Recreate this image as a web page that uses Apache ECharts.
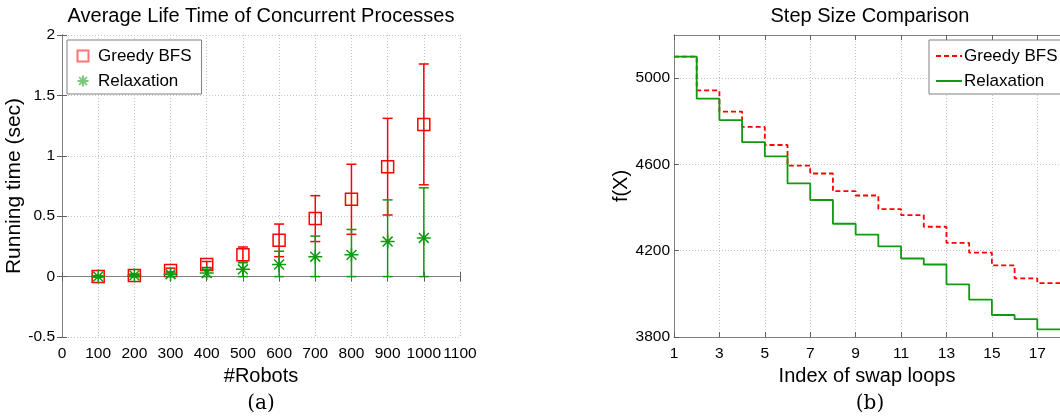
<!DOCTYPE html>
<html><head><meta charset="utf-8">
<script src="https://cdn.jsdelivr.net/npm/echarts@6/dist/echarts.min.js"></script>
<style>html,body{margin:0;padding:0;background:#fff}#c{width:1060px;height:419px}</style>
</head><body><div id="c"></div>
<script>
// ---- (a) Average life time data ----
const robots = [100, 200, 300, 400, 500, 600, 700, 800, 900, 1000];
const greedyMean = [0.00, 0.01, 0.05, 0.10, 0.18, 0.30, 0.48, 0.64, 0.91, 1.26];
const greedyErr = [0.005, 0.01, 0.02, 0.025, 0.065, 0.135, 0.19, 0.29, 0.40, 0.50];
const relaxMean = [0.00, 0.01, 0.02, 0.03, 0.06, 0.10, 0.165, 0.18, 0.29, 0.32];
const relaxErrUp = [0.005, 0.01, 0.02, 0.03, 0.06, 0.11, 0.17, 0.21, 0.345, 0.415];
const relaxErrDown = [0.00, 0.01, 0.02, 0.03, 0.06, 0.10, 0.165, 0.18, 0.29, 0.32];
// ---- (b) Step size comparison data ----
const loopIndex = [1, 2, 3, 4, 5, 6, 7, 8, 9, 10, 11, 12, 13, 14, 15, 16, 17, 18];
const greedyStep = [5100, 4943, 4845, 4774, 4690, 4594, 4558, 4476, 4456, 4393, 4365, 4311, 4236, 4191, 4132, 4072, 4050, 4050];
const relaxStep = [5100, 4905, 4805, 4703, 4637, 4512, 4435, 4325, 4275, 4220, 4164, 4136, 4044, 3973, 3902, 3883, 3835, 3835];

const RED = '#ff0000', GREEN = '#109a10';
const FONT = '"Liberation Sans", Arial, sans-serif';
const SERIF = '"DejaVu Serif", "Liberation Serif", serif';
const GRIDLINE = {show: true, lineStyle: {color: '#c4c4c4', type: [1, 2], width: 1}};
const AXLINE = {show: true, lineStyle: {color: '#808080', width: 1}};
const TICK = {show: true, inside: true, length: 5, lineStyle: {color: '#606060'}};
const FMT = function (v) { return String(v); };
const LBL = {color: '#000', fontFamily: FONT, fontSize: 15.5, formatter: FMT};
const ASTER = 'path://M0,-10L0,10M-10,0L10,0M-7.07,-7.07L7.07,7.07M-7.07,7.07L7.07,-7.07';
const SQUARE = 'path://M0,0L10,0L10,10L0,10Z';

function errRender(params, api) {
  const x = api.value(0), lo = api.value(1), hi = api.value(2);
  const p1 = api.coord([x, hi]), p2 = api.coord([x, lo]);
  const w = 5;
  const style = {stroke: api.visual('color'), lineWidth: 1.5, fill: null};
  return {type: 'group', children: [
    {type: 'line', shape: {x1: p1[0], y1: p1[1], x2: p2[0], y2: p2[1]}, style: style},
    {type: 'line', shape: {x1: p1[0] - w, y1: p1[1], x2: p1[0] + w, y2: p1[1]}, style: style},
    {type: 'line', shape: {x1: p2[0] - w, y1: p2[1], x2: p2[0] + w, y2: p2[1]}, style: style}
  ]};
}

const chart = echarts.init(document.getElementById('c'), null, {renderer: 'canvas'});
const option = {
  backgroundColor: '#fff',
  animation: false,
  grid: [
    {left: 62, top: 35, width: 398, height: 302, containLabel: false},
    {left: 674, top: 35, width: 393.6, height: 302, containLabel: false}
  ],
  xAxis: [
    {gridIndex: 0, type: 'value', min: 0, max: 1100, interval: 100, position: 'bottom',
     axisLine: AXLINE, axisTick: TICK, splitLine: GRIDLINE,
     axisLabel: Object.assign({margin: 9, showMaxLabel: true, showMinLabel: true, hideOverlap: false}, LBL),
     name: '#Robots', nameLocation: 'middle', nameGap: 26,
     nameTextStyle: {color: '#000', fontFamily: FONT, fontSize: 20}},
    {gridIndex: 0, type: 'value', min: 0, max: 1100, interval: 100, position: 'top',
     axisLine: AXLINE, axisTick: TICK, splitLine: {show: false}, axisLabel: {show: false}},
    {gridIndex: 1, type: 'value', min: 1, max: 18, interval: 2, position: 'bottom',
     axisLine: AXLINE, axisTick: TICK, splitLine: GRIDLINE,
     axisLabel: Object.assign({margin: 9, showMaxLabel: false}, LBL),
     name: 'Index of swap loops', nameLocation: 'middle', nameGap: 26,
     nameTextStyle: {color: '#000', fontFamily: FONT, fontSize: 20}},
    {gridIndex: 1, type: 'value', min: 1, max: 18, interval: 2, position: 'top',
     axisLine: AXLINE, axisTick: TICK, splitLine: {show: false}, axisLabel: {show: false}}
  ],
  yAxis: [
    {gridIndex: 0, type: 'value', min: -0.5, max: 2, interval: 0.5, position: 'left',
     axisLine: AXLINE, axisTick: TICK, splitLine: GRIDLINE,
     axisLabel: Object.assign({margin: 7}, LBL),
     name: 'Running time (sec)', nameLocation: 'middle', nameGap: 26, nameRotate: 90,
     nameTextStyle: {color: '#000', fontFamily: FONT, fontSize: 21}},
    {gridIndex: 0, type: 'value', min: -0.5, max: 2, interval: 0.5, position: 'right',
     axisLine: AXLINE, axisTick: TICK, splitLine: {show: false}, axisLabel: {show: false}},
    {gridIndex: 1, type: 'value', min: 3800, max: 5200, interval: 400, position: 'left',
     axisLine: AXLINE, axisTick: TICK, splitLine: GRIDLINE,
     axisLabel: Object.assign({margin: 4, showMaxLabel: false}, LBL),
     name: 'f(X)', nameLocation: 'middle', nameGap: 41, nameRotate: 90,
     nameTextStyle: {color: '#000', fontFamily: FONT, fontSize: 20}}
  ],
  legend: [
    {data: ['Greedy BFS', 'Relaxation'], orient: 'vertical', left: 67, top: 40,
     padding: [6, 10, 3, 8], itemGap: 5, itemWidth: 20, itemHeight: 11, symbolKeepAspect: true,
     backgroundColor: '#fff', borderColor: '#808080', borderWidth: 1, borderRadius: 0,
     itemStyle: {opacity: 0.55},
     textStyle: {color: '#000', fontFamily: FONT, fontSize: 17, lineHeight: 20},
     selectedMode: false},
    {data: ['Greedy BFS (b)', 'Relaxation (b)'], orient: 'vertical', left: 929, top: 40,
     padding: [6, 10, 3, 6], itemGap: 5, itemWidth: 26, itemHeight: 11,
     backgroundColor: '#fff', borderColor: '#808080', borderWidth: 1, borderRadius: 0,
     itemStyle: {opacity: 0},
     formatter: function (n) { return n.replace(' (b)', ''); },
     textStyle: {color: '#000', fontFamily: FONT, fontSize: 17, lineHeight: 20, padding: [0, 0, 0, -3]},
     selectedMode: false}
  ],
  graphic: [
    {type: 'text', x: 261, y: 16, style: {text: 'Average Life Time of Concurrent Processes', fill: '#000', fontFamily: FONT, fontSize: 20, align: 'center', verticalAlign: 'middle'}},
    {type: 'text', x: 870, y: 16, style: {text: 'Step Size Comparison', fill: '#000', fontFamily: FONT, fontSize: 20, align: 'center', verticalAlign: 'middle'}},
    {type: 'text', x: 261, y: 404, style: {text: '(a)', fill: '#000', fontFamily: SERIF, fontSize: 20, align: 'center', verticalAlign: 'middle'}},
    {type: 'text', x: 870, y: 404, style: {text: '(b)', fill: '#000', fontFamily: SERIF, fontSize: 20, align: 'center', verticalAlign: 'middle'}}
  ],
  series: [
    {name: 'Greedy BFS error', type: 'custom', xAxisIndex: 0, yAxisIndex: 0,
     itemStyle: {color: RED}, renderItem: errRender, encode: {x: 0, y: [1, 2]},
     data: robots.map((r, i) => [r, greedyMean[i] - greedyErr[i], greedyMean[i] + greedyErr[i]]), z: 2},
    {name: 'Greedy BFS', type: 'scatter', xAxisIndex: 0, yAxisIndex: 0,
     symbol: SQUARE, symbolSize: 12, symbolKeepAspect: true,
     itemStyle: {color: 'none', borderColor: RED, borderWidth: 1.5, opacity: 1},
     data: robots.map((r, i) => [r, greedyMean[i]]), z: 3},
    {name: 'Relaxation error', type: 'custom', xAxisIndex: 0, yAxisIndex: 0,
     itemStyle: {color: GREEN}, renderItem: errRender, encode: {x: 0, y: [1, 2]},
     data: robots.map((r, i) => [r, relaxMean[i] - relaxErrDown[i], relaxMean[i] + relaxErrUp[i]]), z: 4},
    {name: 'Relaxation', type: 'scatter', xAxisIndex: 0, yAxisIndex: 0,
     symbol: ASTER, symbolSize: 14, symbolKeepAspect: true,
     itemStyle: {color: 'none', borderColor: GREEN, borderWidth: 1.5, opacity: 1},
     data: robots.map((r, i) => [r, relaxMean[i]]), z: 5},
    {name: 'Greedy BFS (b)', type: 'line', xAxisIndex: 2, yAxisIndex: 2,
     step: 'end', showSymbol: false, symbol: 'none', color: RED,
     lineStyle: {color: RED, width: 1.8, type: [5, 3]},
     data: loopIndex.map((x, i) => [x, greedyStep[i]]), z: 3},
    {name: 'Relaxation (b)', type: 'line', xAxisIndex: 2, yAxisIndex: 2,
     step: 'end', showSymbol: false, symbol: 'none', color: GREEN,
     lineStyle: {color: GREEN, width: 1.8, type: 'solid'},
     data: loopIndex.map((x, i) => [x, relaxStep[i]]), z: 4}
  ]
};
chart.setOption(option);
</script></body></html>
